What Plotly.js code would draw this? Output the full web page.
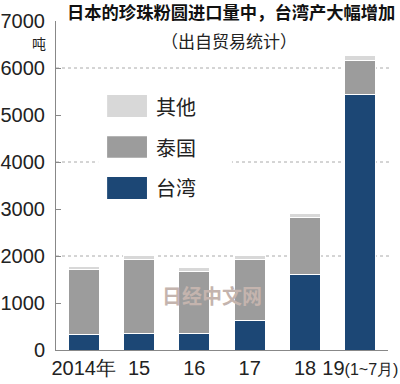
<!DOCTYPE html>
<html><head><meta charset="utf-8">
<script src="https://cdn.plot.ly/plotly-3.0.1.min.js"></script>
<style>html,body{margin:0;padding:0;background:#fff}#c{width:400px;height:384px}</style>
</head><body><div id="c"></div>
<script>
const categories = ["2014年", "15", "16", "17", "18", "19(1~7月)"];
const tickLabels = ["2014年", "15", "16", "17", "18", "19<span style='font-size:16px'>(1~7月)</span>"];
const taiwan = [340, 360, 360, 620, 1600, 5430];
const thailand = [1370, 1570, 1320, 1300, 1210, 730];
const others = [70, 80, 70, 100, 100, 100];
const seriesNames = ["台湾", "泰国", "其他"];
const seriesColors = ["#1c4775", "#9c9c9c", "#d8d8d8"];
const yTicks = [0, 1000, 2000, 3000, 4000, 5000, 6000, 7000];
const gridValues = [2000, 4000, 6000];

const numFont = "'Liberation Sans', Arial, sans-serif";
const cjkFont = "'Noto Sans CJK SC', sans-serif";

const seriesData = [taiwan, thailand, others];
const traces = seriesData.map((vals, i) => ({
  type: 'bar', x: categories, y: vals, name: seriesNames[i],
  marker: {color: seriesColors[i], line: {color: '#ffffff', width: 1}},
  hoverinfo: 'none'
}));

const shapes = [];
gridValues.forEach(v => shapes.push({type: 'line', xref: 'paper', yref: 'y', x0: 0, x1: 1.01, y0: v, y1: v,
  line: {color: '#aaaaaa', width: 1, dash: 'dot'}, layer: 'below'}));
// legend white background
shapes.push({type: 'rect', xref: 'paper', yref: 'paper', x0: 0.127, x1: 0.53, y0: 0.43, y1: 0.81,
  fillcolor: '#ffffff', line: {width: 0}, layer: 'below'});
const legY = [[0.708, 0.775], [0.584, 0.650], [0.459, 0.526]];
const legOrder = [2, 1, 0];
const annotations = [];
legOrder.forEach((si, k) => {
  shapes.push({type: 'rect', xref: 'paper', yref: 'paper', x0: 0.154, x1: 0.274, y0: legY[k][0], y1: legY[k][1],
    fillcolor: seriesColors[si], line: {width: 0}});
  annotations.push({xref: 'paper', yref: 'paper', x: 0.296, y: (legY[k][0] + legY[k][1]) / 2,
    xanchor: 'left', yanchor: 'middle', text: seriesNames[si], showarrow: false,
    font: {family: cjkFont, size: 20, color: '#222'}});
});
annotations.push({xref: 'paper', yref: 'paper', x: 0.52, y: 0.942, xanchor: 'center', yanchor: 'middle',
  text: '（出自贸易统计）', showarrow: false, font: {family: cjkFont, size: 17, color: '#222'}});
annotations.push({xref: 'paper', yref: 'paper', x: -0.025, y: 0.933, xanchor: 'right', yanchor: 'middle',
  text: '吨', showarrow: false, font: {family: cjkFont, size: 14, color: '#222'}});
annotations.push({xref: 'paper', yref: 'paper', x: 0.47, y: 0.167, xanchor: 'center', yanchor: 'middle',
  text: '<b>日经中文网</b>', showarrow: false, font: {family: cjkFont, size: 20, color: '#c4b4ae'}});

const layout = {
  width: 400, height: 384,
  margin: {l: 56, r: 12, t: 21, b: 34, pad: 0},
  paper_bgcolor: '#fff', plot_bgcolor: '#fff',
  barmode: 'stack', bargap: 0.44, showlegend: false,
  title: {text: '<b>日本的珍珠粉圆进口量中，台湾产大幅增加</b>', xref: 'container', yref: 'container',
    x: 0.578, y: 0.966, xanchor: 'center', yanchor: 'middle',
    font: {family: cjkFont, size: 17.3, color: '#111'}},
  xaxis: {type: 'category', range: [-0.5, 5.5], showgrid: false, zeroline: false,
    showline: true, linecolor: '#888', linewidth: 1, ticks: '', tickangle: 0,
    tickvals: categories, ticktext: tickLabels,
    tickfont: {family: numFont, size: 20, color: '#222'}, fixedrange: true},
  yaxis: {range: [0, 7000], tickvals: yTicks, ticktext: yTicks.map(String), showgrid: false, zeroline: false,
    showline: true, linecolor: '#888', linewidth: 1, ticks: 'inside', ticklen: 5, tickcolor: '#888',
    tickfont: {family: numFont, size: 20, color: '#222'}, ticklabelstandoff: 6, fixedrange: true},
  shapes: shapes, annotations: annotations
};
Plotly.newPlot('c', traces, layout, {staticPlot: true});
</script></body></html>
